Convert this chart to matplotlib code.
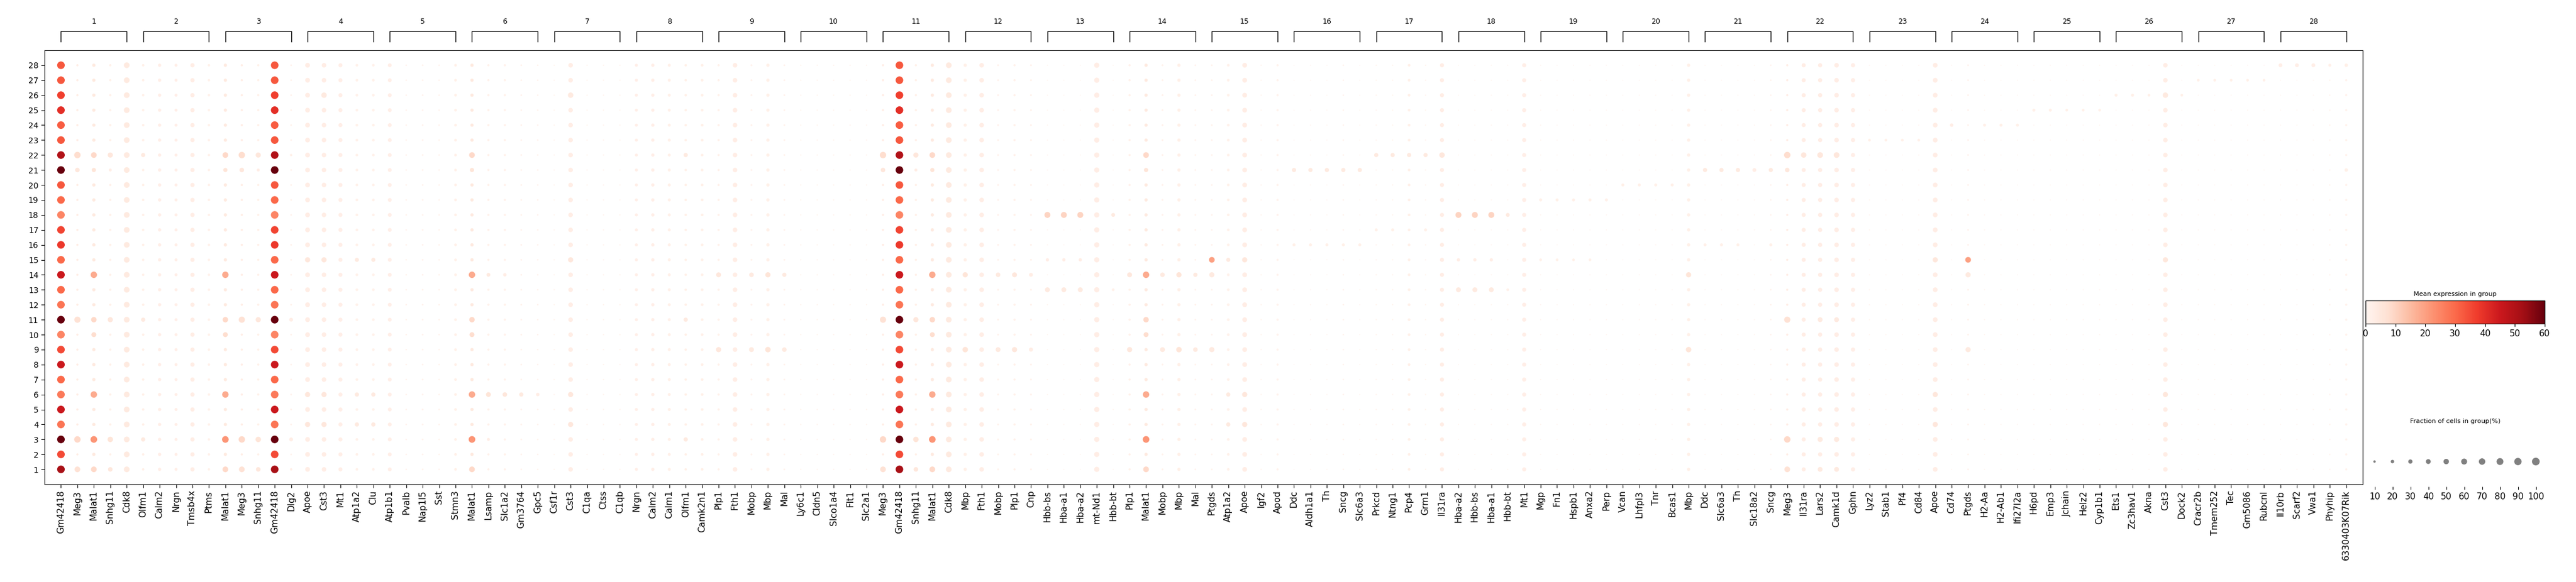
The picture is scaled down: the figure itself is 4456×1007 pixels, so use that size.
import numpy as np
import matplotlib
matplotlib.use("Agg")
import matplotlib.pyplot as plt
from matplotlib.colors import Normalize

# ============================================================
# DATA
# ============================================================

groups = [str(i) for i in range(1, 29)]

marker_genes = [
    ["Gm42418", "Meg3", "Malat1", "Snhg11", "Cdk8"],
    ["Olfm1", "Calm2", "Nrgn", "Tmsb4x", "Ptms"],
    ["Malat1", "Meg3", "Snhg11", "Gm42418", "Dlg2"],
    ["Apoe", "Cst3", "Mt1", "Atp1a2", "Clu"],
    ["Atp1b1", "Pvalb", "Nap1l5", "Sst", "Stmn3"],
    ["Malat1", "Lsamp", "Slc1a2", "Gm3764", "Gpc5"],
    ["Csf1r", "Cst3", "C1qa", "Ctss", "C1qb"],
    ["Nrgn", "Calm2", "Calm1", "Olfm1", "Camk2n1"],
    ["Plp1", "Fth1", "Mobp", "Mbp", "Mal"],
    ["Ly6c1", "Cldn5", "Slco1a4", "Flt1", "Slc2a1"],
    ["Meg3", "Gm42418", "Snhg11", "Malat1", "Cdk8"],
    ["Mbp", "Fth1", "Mobp", "Plp1", "Cnp"],
    ["Hbb-bs", "Hba-a1", "Hba-a2", "mt-Nd1", "Hbb-bt"],
    ["Plp1", "Malat1", "Mobp", "Mbp", "Mal"],
    ["Ptgds", "Atp1a2", "Apoe", "Igf2", "Apod"],
    ["Ddc", "Aldh1a1", "Th", "Sncg", "Slc6a3"],
    ["Prkcd", "Ntng1", "Pcp4", "Grm1", "Il31ra"],
    ["Hba-a2", "Hbb-bs", "Hba-a1", "Hbb-bt", "Mt1"],
    ["Mgp", "Fn1", "Hspb1", "Anxa2", "Perp"],
    ["Vcan", "Lhfpl3", "Tnr", "Bcas1", "Mbp"],
    ["Ddc", "Slc6a3", "Th", "Slc18a2", "Sncg"],
    ["Meg3", "Il31ra", "Lars2", "Camk1d", "Gphn"],
    ["Lyz2", "Stab1", "Pf4", "Cd84", "Apoe"],
    ["Cd74", "Ptgds", "H2-Aa", "H2-Ab1", "Ifi27l2a"],
    ["H6pd", "Emp3", "Jchain", "Helz2", "Cyp1b1"],
    ["Ets1", "Zc3hav1", "Akna", "Cst3", "Dock2"],
    ["Cracr2b", "Tmem252", "Tec", "Gm5086", "Rubcnl"],
    ["Il10rb", "Scarf2", "Vwa1", "Phyhip", "6330403K07Rik"],
]

# Gm42418 mean expression for clusters 1..28
gm42418_mean = [52, 35, 60, 28, 45, 27, 30, 45, 35, 25, 60, 28, 30, 45,
                30, 38, 36, 25, 30, 33, 60, 50, 33, 32, 40, 37, 33, 33]
gm42418_frac = 98

# gene -> (baseline mean, baseline fraction %, {cluster: (mean, fraction %)})
neuro_meg3 = {1: (7, 55), 3: (9, 70), 11: (7, 65), 21: (5, 35), 22: (8, 70)}
neuro_snhg = {1: (5, 35), 3: (6, 50), 11: (5, 45), 21: (3, 15), 22: (5, 45)}
astro = {4: (5, 45), 6: (5, 45), 15: (5, 45)}
astro_cst3 = {4: (5, 45), 6: (5, 45), 15: (5, 45), 26: (4, 50)}
astro_small = {4: (4, 30), 6: (4, 30), 15: (4, 28)}
oligo = {9: (5, 45), 14: (5, 40)}
oligo_small = {9: (3, 28), 14: (3, 25)}
hb = {18: (10, 60), 13: (4, 40), 15: (3, 18)}
da = {21: (4, 30), 16: (2, 15)}
purk = {22: (4, 30), 17: (2, 15)}
lars = {22: (5, 55), 11: (4, 40), 3: (4, 45), 1: (4, 40)}

gene_profiles = {
    "Meg3": (3, 8, neuro_meg3),
    "Malat1": (4, 18, {3: (22, 75), 6: (18, 70), 14: (18, 70), 1: (9, 55),
                       10: (8, 40), 11: (9, 50), 22: (9, 55), 21: (6, 30)}),
    "Snhg11": (2, 8, neuro_snhg),
    "Cdk8": (4, 55, {}),
    "Olfm1": (2, 10, {3: (4, 30), 11: (4, 30), 22: (4, 30)}),
    "Calm2": (2.5, 18, {}),
    "Nrgn": (2.5, 15, {}),
    "Tmsb4x": (3, 30, {}),
    "Ptms": (1.5, 10, {}),
    "Dlg2": (1, 5, {3: (3, 25), 11: (3, 25), 1: (2, 10), 22: (2, 10)}),
    "Apoe": (3, 38, astro),
    "Cst3": (3, 35, astro_cst3),
    "Mt1": (2.5, 28, {}),
    "Atp1a2": (1.5, 12, astro_small),
    "Clu": (1.5, 12, astro_small),
    "Atp1b1": (2.5, 25, {}),
    "Pvalb": (1, 4, {}),
    "Nap1l5": (1, 5, {}),
    "Sst": (1, 4, {}),
    "Stmn3": (2, 12, {}),
    "Lsamp": (1.5, 8, {6: (6, 40), 14: (4, 25), 3: (3, 15)}),
    "Slc1a2": (1.5, 8, {6: (5, 35), 14: (3, 20)}),
    "Gm3764": (1, 5, {6: (4, 30)}),
    "Gpc5": (1, 4, {6: (3, 20)}),
    "Csf1r": (0.5, 3, {}),
    "C1qa": (0.5, 3, {}),
    "Ctss": (0.5, 3, {}),
    "C1qb": (0.5, 3, {}),
    "Calm1": (2, 15, {}),
    "Camk2n1": (2, 12, {}),
    "Plp1": (1.5, 8, oligo),
    "Fth1": (3, 35, {}),
    "Mobp": (1, 6, {9: (4, 40), 14: (4, 35)}),
    "Mbp": (2, 18, {9: (6, 50), 14: (6, 45)}),
    "Mal": (1, 5, {9: (4, 35), 14: (4, 30)}),
    "Cnp": (1, 6, oligo_small),
    "Ly6c1": (0.5, 3, {}),
    "Cldn5": (0.5, 3, {}),
    "Slco1a4": (0.5, 3, {}),
    "Flt1": (0.5, 3, {}),
    "Slc2a1": (0.5, 3, {}),
    "Hbb-bs": (0.5, 2, hb),
    "Hba-a1": (0.5, 2, hb),
    "Hba-a2": (0.5, 2, hb),
    "Hbb-bt": (0.5, 2, {18: (4, 25), 13: (2, 12)}),
    "mt-Nd1": (3, 45, {}),
    "Ptgds": (1, 5, {15: (20, 55), 14: (4, 45), 9: (4, 45)}),
    "Igf2": (0.5, 3, {}),
    "Apod": (1, 8, {}),
    "Ddc": (0.3, 2, da),
    "Aldh1a1": (0.3, 2, da),
    "Th": (0.3, 2, da),
    "Sncg": (1, 4, da),
    "Slc6a3": (0.3, 2, da),
    "Slc18a2": (0.3, 2, {21: (3, 25)}),
    "Prkcd": (0.5, 3, purk),
    "Ntng1": (0.5, 3, purk),
    "Pcp4": (2, 12, {22: (4, 30)}),
    "Grm1": (0.5, 3, purk),
    "Il31ra": (3, 28, {22: (5, 50)}),
    "Mgp": (0.3, 2, {19: (2, 15), 15: (2, 12)}),
    "Fn1": (0.3, 2, {19: (2, 15), 15: (2, 12)}),
    "Hspb1": (0.3, 2, {19: (2, 15), 15: (2, 12)}),
    "Anxa2": (0.3, 2, {19: (2, 15), 15: (2, 12)}),
    "Perp": (0.3, 2, {19: (2, 15)}),
    "Vcan": (0.3, 2, {20: (2, 15)}),
    "Lhfpl3": (0.3, 2, {20: (2, 15)}),
    "Tnr": (0.3, 2, {20: (2, 15)}),
    "Bcas1": (0.3, 2, {20: (2, 15)}),
    "Lars2": (3, 30, lars),
    "Camk1d": (3, 35, lars),
    "Gphn": (2.5, 30, {}),
    "Lyz2": (0.3, 2, {23: (2, 12)}),
    "Stab1": (0.3, 2, {23: (2, 12)}),
    "Pf4": (0.3, 2, {23: (2, 12)}),
    "Cd84": (0.3, 2, {23: (2, 12)}),
    "Cd74": (0.3, 2, {24: (3, 20)}),
    "H2-Aa": (0.3, 2, {24: (2, 15)}),
    "H2-Ab1": (0.3, 2, {24: (2, 15)}),
    "Ifi27l2a": (0.3, 2, {24: (2, 15)}),
    "H6pd": (0.3, 2, {25: (2, 15)}),
    "Emp3": (0.3, 2, {25: (2, 15)}),
    "Jchain": (0.3, 2, {25: (2, 12)}),
    "Helz2": (0.3, 2, {25: (2, 12)}),
    "Cyp1b1": (0.3, 2, {25: (2, 12)}),
    "Ets1": (0.3, 2, {26: (2, 15)}),
    "Zc3hav1": (0.3, 2, {26: (2, 15)}),
    "Akna": (0.3, 2, {26: (2, 12)}),
    "Dock2": (0.3, 2, {26: (2, 12)}),
    "Cracr2b": (0.3, 2, {27: (2, 12)}),
    "Tmem252": (0.3, 2, {27: (2, 12)}),
    "Tec": (0.3, 2, {27: (2, 12)}),
    "Gm5086": (0.3, 2, {27: (2, 12)}),
    "Rubcnl": (0.3, 2, {27: (2, 12)}),
    "Il10rb": (0.3, 2, {28: (2.5, 25)}),
    "Scarf2": (0.3, 2, {28: (2.5, 25)}),
    "Vwa1": (0.3, 2, {28: (2.5, 25)}),
    "Phyhip": (0.5, 4, {28: (2, 15)}),
    "6330403K07Rik": (1, 8, {28: (2, 20), 21: (2, 20)}),
}

size_legend_values = [10, 20, 30, 40, 50, 60, 70, 80, 90, 100]
cbar_ticks = [0, 10, 20, 30, 40, 50, 60]

# ============================================================
# BUILD MATRICES
# ============================================================

genes = [g for grp in marker_genes for g in grp]
n_rows, n_cols = len(groups), len(genes)
mean_mat = np.zeros((n_rows, n_cols))
frac_mat = np.zeros((n_rows, n_cols))

for j, gene in enumerate(genes):
    if gene == "Gm42418":
        mean_mat[:, j] = gm42418_mean
        frac_mat[:, j] = gm42418_frac
        continue
    base_m, base_f, special = gene_profiles[gene]
    mean_mat[:, j] = base_m
    frac_mat[:, j] = base_f
    for cl, (m, f) in special.items():
        mean_mat[cl - 1, j] = m
        frac_mat[cl - 1, j] = f

# ============================================================
# PLOT
# ============================================================

W, H = 4456, 1007
fig = plt.figure(figsize=(W / 100, H / 100), dpi=100)
cmap = plt.get_cmap("Reds")
norm = Normalize(vmin=0, vmax=60)
MAX_S = 92


def dot_size(frac):
    return MAX_S * np.asarray(frac) / 100.0


ax = fig.add_axes([77 / W, 1 - 838 / H, 4010 / W, 751 / H])
xx, yy = np.meshgrid(np.arange(n_cols), np.arange(1, n_rows + 1))
ax.scatter(xx.ravel(), yy.ravel(), s=dot_size(frac_mat.ravel()),
           c=mean_mat.ravel(), cmap=cmap, norm=norm, edgecolors="none")
ax.set_xlim(-1, n_cols)
ax.set_ylim(0, n_rows + 1)
ax.set_xticks(np.arange(n_cols))
ax.set_xticklabels(genes, rotation=90, fontsize=11)
ax.set_yticks(np.arange(1, n_rows + 1))
ax.set_yticklabels(groups, fontsize=10)
ax.tick_params(length=4)

# group brackets
bax = fig.add_axes([77 / W, 1 - 84 / H, 4010 / W, 50 / H])
bax.set_xlim(-1, n_cols)
bax.set_ylim(0, 1)
bax.axis("off")
for gi, grp in enumerate(marker_genes):
    start = gi * 5
    end = start + len(grp) - 1
    bax.plot([start, start, end, end], [0.25, 0.6, 0.6, 0.25], color="black", lw=1)
    bax.text((start + end) / 2, 0.8, groups[gi], ha="center", va="bottom", fontsize=9)

# colorbar
cax = fig.add_axes([4092 / W, 1 - 560 / H, 310 / W, 40 / H])
sm = plt.cm.ScalarMappable(norm=norm, cmap=cmap)
cb = fig.colorbar(sm, cax=cax, orientation="horizontal", ticks=cbar_ticks)
cb.ax.tick_params(labelsize=11)
cax.set_title("Mean expression in group", fontsize=8)

# size legend
sax = fig.add_axes([4092 / W, 1 - 842 / H, 310 / W, 70 / H])
pos = np.arange(len(size_legend_values))
sax.scatter(pos, np.full(len(pos), 0.62), s=dot_size(size_legend_values),
            color="gray", edgecolors="none")
sax.set_xlim(-0.5, len(pos) - 0.5)
sax.set_ylim(0, 1)
sax.set_yticks([])
sax.set_xticks(pos)
sax.set_xticklabels([str(v) for v in size_legend_values], fontsize=11)
for sp in sax.spines.values():
    sp.set_visible(False)
sax.text(0.5, 1.55, "Fraction of cells in group(%)", transform=sax.transAxes,
         ha="center", va="bottom", fontsize=8)

fig.savefig("out.png", dpi=100)
